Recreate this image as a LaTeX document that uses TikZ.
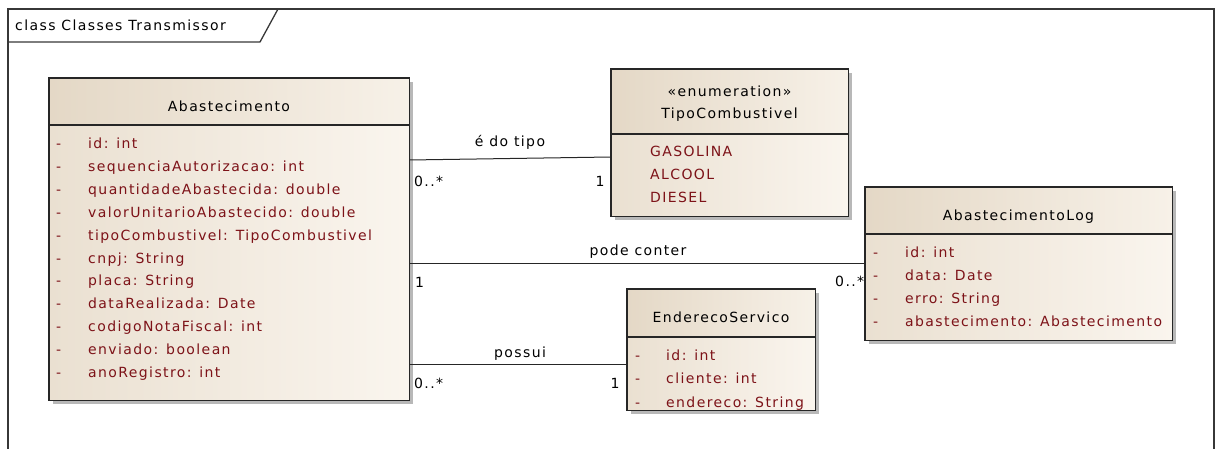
\documentclass[tikz,border=0pt]{standalone}
\usepackage{fontspec}
\setmainfont{DejaVu Sans}[LetterSpace=10]
\usetikzlibrary{calc}
\definecolor{hdrA}{RGB}{228,216,198}
\definecolor{hdrB}{RGB}{247,241,232}
\definecolor{bodyA}{RGB}{234,224,209}
\definecolor{bodyB}{RGB}{250,245,238}
\definecolor{attr}{RGB}{125,18,24}
\definecolor{frm}{RGB}{55,55,55}
\tikzset{
  classbox/.style={draw=none, inner sep=0pt, anchor=north west},
  boxline/.style={draw=black!85, line width=1.1pt},
  shadowbox/.style={fill=black!28, draw=none},
  hdr/.style={left color=hdrA, right color=hdrB, draw=none},
  bdy/.style={left color=bodyA, right color=bodyB, draw=none},
  txt/.style={inner sep=0pt, font=\fontsize{14}{16}\selectfont},
  attrtxt/.style={txt, anchor=base west, text=attr},
  titletxt/.style={txt, anchor=base, text=black},
  lbl/.style={txt, anchor=base, text=black},
  lblw/.style={txt, anchor=base west, text=black},
  conn/.style={draw=black!85, line width=1pt},
  frameline/.style={draw=frm, line width=1.3pt},
}
\begin{document}
\begin{tikzpicture}[x=1pt,y=-1pt]
\useasboundingbox (0,0) rectangle (1215,449);
% frame
\draw[frameline] (8,455) -- (8,9) -- (1214,9) -- (1214,455);
\draw[frameline] (8,42) -- (260,42) -- (278,9);
\node[txt, anchor=base west] (frametitle) at (15,31) {class Classes Transmissor};

% class nodes
\node[classbox, minimum width=360pt, minimum height=322pt] (abast) at (49,78) {};
\node[classbox, minimum width=237pt, minimum height=147pt] (tipo) at (611,69) {};
\node[classbox, minimum width=307pt, minimum height=153pt] (log) at (865,187) {};
\node[classbox, minimum width=188pt, minimum height=121pt] (end) at (627,289) {};

% shadows
\foreach \n in {abast,tipo,log,end}
  \fill[shadowbox] ($(\n.north west)+(4,4)$) rectangle ($(\n.south east)+(4,4)$);

% Abastecimento
\fill[hdr] (abast.north west) rectangle (abast.east |- 0,125);
\fill[bdy] (abast.west |- 0,125) rectangle (abast.south east);
\draw[boxline] (abast.north west) rectangle (abast.south east);
\draw[boxline] (abast.west |- 0,125) -- (abast.east |- 0,125);
\node[titletxt] (abastT) at (229,112) {Abastecimento};
\foreach \t [count=\i from 0] in {id: int, sequenciaAutorizacao: int, quantidadeAbastecida: double, valorUnitarioAbastecido: double, tipoCombustivel: TipoCombustivel, cnpj: String, placa: String, dataRealizada: Date, codigoNotaFiscal: int, enviado: boolean, anoRegistro: int}{
  \node[attrtxt] (abastD\i) at (56,149+22.8*\i) {-};
  \node[attrtxt] (abastA\i) at (88,149+22.8*\i) {\t};
}

% TipoCombustivel
\fill[hdr] (tipo.north west) rectangle (tipo.east |- 0,134);
\fill[bdy] (tipo.west |- 0,134) rectangle (tipo.south east);
\draw[boxline] (tipo.north west) rectangle (tipo.south east);
\draw[boxline] (tipo.west |- 0,134) -- (tipo.east |- 0,134);
\node[titletxt] (tipoS) at (729.5,97) {«enumeration»};
\node[titletxt] (tipoT) at (729.5,119) {TipoCombustivel};
\foreach \t [count=\i from 0] in {GASOLINA, ALCOOL, DIESEL}{
  \node[attrtxt] (tipoA\i) at (650,157+23*\i) {\t};
}

% AbastecimentoLog
\fill[hdr] (log.north west) rectangle (log.east |- 0,234);
\fill[bdy] (log.west |- 0,234) rectangle (log.south east);
\draw[boxline] (log.north west) rectangle (log.south east);
\draw[boxline] (log.west |- 0,234) -- (log.east |- 0,234);
\node[titletxt] (logT) at (1018.5,220) {AbastecimentoLog};
\foreach \t [count=\i from 0] in {id: int, data: Date, erro: String, abastecimento: Abastecimento}{
  \node[attrtxt] (logD\i) at (873,257+23.3*\i) {-};
  \node[attrtxt] (logA\i) at (905,257+23.3*\i) {\t};
}

% EnderecoServico
\fill[hdr] (end.north west) rectangle (end.east |- 0,337);
\fill[bdy] (end.west |- 0,337) rectangle (end.south east);
\draw[boxline] (end.north west) rectangle (end.south east);
\draw[boxline] (end.west |- 0,337) -- (end.east |- 0,337);
\node[titletxt] (endT) at (721,322) {EnderecoServico};
\foreach \t [count=\i from 0] in {id: int, cliente: int, endereco: String}{
  \node[attrtxt] (endD\i) at (635,360+23.5*\i) {-};
  \node[attrtxt] (endA\i) at (666,360+23.5*\i) {\t};
}

% connectors
\draw[conn] (abast.east |- 0,160) -- (tipo.west |- 0,157);
\node[lbl] (l1) at (510,147) {é do tipo};
\node[lblw] (m1a) at (414,187) {0..*};
\node[lbl] (m1b) at (600,187) {1};

\draw[conn] (abast.east |- 0,263) -- (log.west |- 0,263);
\node[lbl] (l2) at (638,255) {pode conter};
\node[lblw] (m2a) at (415,287) {1};
\node[lblw] (m2b) at (835,286) {0..*};

\draw[conn] (abast.east |- 0,364) -- (end.west |- 0,364);
\node[lbl] (l3) at (520,357) {possui};
\node[lblw] (m3a) at (414,388) {0..*};
\node[lbl] (m3b) at (615,388) {1};
\end{tikzpicture}
\end{document}
